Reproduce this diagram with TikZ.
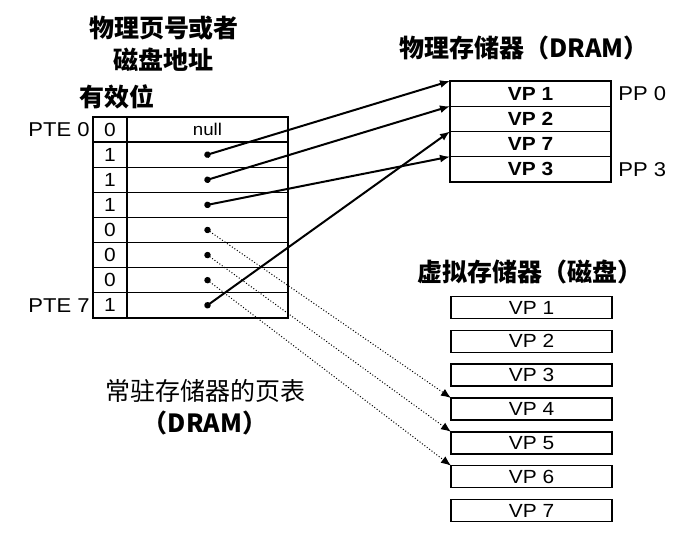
\documentclass[tikz,border=0pt]{standalone}
\usepackage{fontspec}
\setmainfont{Liberation Sans}[FakeStretch=1.1]
\newfontfamily\cjk{Noto Sans CJK SC}
\usetikzlibrary{arrows.meta,positioning,calc}
\tikzset{
  >=Latex,
  cell/.style={draw,line width=.7pt,minimum height=12.55pt,inner sep=0pt,outer sep=0pt,font=\fontsize{9.5}{10}\selectfont},
  vbit/.style={cell,minimum width=17pt},
  addr/.style={cell,minimum width=80.5pt},
  ppage/.style={cell,minimum width=80.5pt,minimum height=12.6pt,font=\bfseries\fontsize{9.5}{10}\selectfont},
  dpage/.style={cell,minimum width=80.5pt,minimum height=11pt,font=\fontsize{9.5}{10}\selectfont},
  title/.style={font=\cjk\bfseries\fontsize{12.5}{16}\selectfont,align=center,inner sep=0pt},
  side/.style={font=\fontsize{10}{11}\selectfont,inner sep=1.5pt},
  mapped/.style={{Circle[length=3.2pt]}-{Latex[length=5pt,width=4pt]},line width=1pt,shorten <=-1.6pt},
  ondisk/.style={mapped,line width=.5pt,densely dotted}
}
\begin{document}
\begin{tikzpicture}[x=.5pt,y=-.5pt]
        \useasboundingbox (0,0) rectangle (675,537);
        \foreach \b [count=\i from 0] in {0,1,1,1,0,0,0,1}
          \node[vbit] (v\i) at (110,{129.55+25.1*\i}) {\b};
        \node[addr,font=\fontsize{8.5}{9}\selectfont] (a0) at (207.5,129.55) {null};
        \foreach \i in {1,...,7}
          \node[addr] (a\i) at (207.5,{129.55+25.1*\i}) {};
        \foreach \v [count=\j from 0] in {1,2,7,3}
          \node[ppage] (pp\j) at (530.5,{93.6+25.2*\j}) {VP \v};
        \foreach \k in {1,...,7}
          \node[dpage] (vp\k) at (531.5,{307.5+33.83*(\k-1)}) {VP \k};

        \node[title] (pfn) at (164,44) {物理页号或者\\磁盘地址};
        \node[title] (valid) at (117,97) {有效位};
        \node[side,left] (pte0) at (v0.west) {PTE 0};
        \node[side,left] (pte7) at (v7.west) {PTE 7};
        \node[title] (dram) at (524,48) {物理存储器（DRAM）};
        \node[side,right=2pt of pp0] (ppn0) {PP 0};
        \node[side,right=2pt of pp3] (ppn3) {PP 3};
        \node[title] (disk) at (530,272) {虚拟存储器（磁盘）};
        \node[title] (ptab) at (205,407) {{\mdseries 常驻存储器的页表}\\（DRAM）};

        \draw[mapped] (a1.center)--(pp0.north west);
        \draw[mapped] (a2.center)--(pp1.north west);
        \draw[mapped] (a3.center)--(pp3.north west);
        \draw[mapped] (a7.center)--(pp2.north west);
        \draw[ondisk] (a4.center)--(vp4.north west);
        \draw[ondisk] (a5.center)--(vp5.north west);
        \draw[ondisk] (a6.center)--(vp6.north west);
      \end{tikzpicture}
\end{document}
